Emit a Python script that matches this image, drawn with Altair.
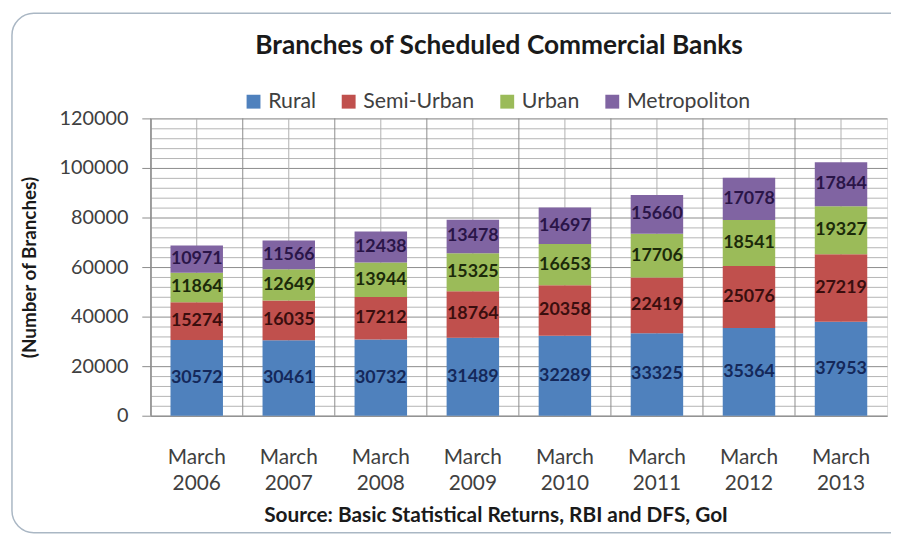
import altair as alt
import pandas as pd

categories = ["March 2006", "March 2007", "March 2008", "March 2009",
              "March 2010", "March 2011", "March 2012", "March 2013"]
series = ["Rural", "Semi-Urban", "Urban", "Metropoliton"]
rural = [30572, 30461, 30732, 31489, 32289, 33325, 35364, 37953]
semi_urban = [15274, 16035, 17212, 18764, 20358, 22419, 25076, 27219]
urban = [11864, 12649, 13944, 15325, 16653, 17706, 18541, 19327]
metro = [10971, 11566, 12438, 13478, 14697, 15660, 17078, 17844]
y_ticks = list(range(0, 120001, 4000))

bar_colors = ["#4F81BD", "#C0504D", "#9BBB59", "#8064A2"]
text_colors = ["#14285a", "#3a0e0e", "#1c2a0a", "#2a1548"]

rows = []
for s_i, (name, vals) in enumerate(zip(series, [rural, semi_urban, urban, metro])):
    for cat, v in zip(categories, vals):
        rows.append({"cat": cat, "series": name, "order": s_i, "value": v})
df = pd.DataFrame(rows)
cat_df = pd.DataFrame({"cat": categories})

FONT = "Lato"
W, H = 743, 300

x_scale = alt.Scale(domain=categories, paddingInner=0, paddingOuter=0)
y_scale = alt.Scale(domain=[0, 120000], nice=False)

x_axis = alt.Axis(
    title="Source: Basic Statistical Returns, RBI and DFS, GoI",
    titleFont=FONT, titleFontSize=21, titleFontWeight="bold",
    titleColor="#1a1a1a", titleX=348, titleY=101,
    titleAlign="center", titleBaseline="middle",
    labelExpr="split(datum.label, ' ')", labelFont=FONT,
    labelFontSize=21, labelColor="#404040", labelLineHeight=26,
    labelPadding=31, labelAngle=0, ticks=False, grid=False,
    domainColor="#8c8c8c")

y_axis = alt.Axis(
    title="(Number of Branches)", titleFont=FONT, titleFontSize=19,
    titleFontWeight="bold", titleColor="#1a1a1a",
    titleX=-122, titleY=150, titleAlign="center", titleBaseline="middle",
    values=y_ticks, format="d", labelOverlap=False,
    labelExpr="datum.value % 20000 === 0 ? datum.label : ''",
    labelFont=FONT, labelFontSize=20, labelColor="#404040",
    labelPadding=14, tickSize=9,
    tickColor=alt.condition("datum.value % 20000 === 0",
                            alt.value("#8c8c8c"), alt.value("transparent")),
    gridColor=alt.condition("datum.value % 20000 === 0",
                            alt.value("#8c8c8c"), alt.value("#b4b4b4")),
    grid=True, domainColor="#8c8c8c")

base = alt.Chart(df).transform_stack(
    stack="value", groupby=["cat"], sort=[alt.SortField("order")], as_=["y0", "y1"]
).transform_calculate(mid="(datum.y0 + datum.y1) / 2")

frame = alt.Chart(pd.DataFrame({"a": [0]})).mark_rect(
    fill="transparent", stroke="#aab7c4", strokeWidth=1.5, cornerRadius=22
).encode(
    x=alt.value(-140), x2=alt.value(800), y=alt.value(-106), y2=alt.value(418)
)

vbound = alt.Chart(cat_df).mark_rule(color="#8c8c8c", strokeWidth=1).encode(
    x=alt.X("cat:N", scale=x_scale, sort=categories, bandPosition=0, axis=x_axis)
)
vmid = alt.Chart(cat_df).mark_rule(color="#b0b0b0", strokeWidth=1).encode(
    x=alt.X("cat:N", scale=x_scale, sort=categories, bandPosition=0.5, axis=x_axis)
)

bars = base.mark_bar(width=alt.RelativeBandSize(0.57)).encode(
    x=alt.X("cat:N", scale=x_scale, sort=categories, axis=x_axis),
    y=alt.Y("y0:Q", scale=y_scale, axis=y_axis),
    y2="y1:Q",
    color=alt.Color("series:N", scale=alt.Scale(domain=series, range=bar_colors),
                    legend=alt.Legend(title=None, orient="none", direction="horizontal",
                                      legendX=93, legendY=-28, padding=0,
                                      symbolType="square", symbolSize=196,
                                      symbolStrokeWidth=0, labelOffset=4,
                                      columnPadding=22, labelFont=FONT,
                                      labelFontSize=21.5, labelColor="#404040")),
    order=alt.Order("order:Q"),
)

labels = base.mark_text(font=FONT, fontWeight="bold",
                        fontSize=18, baseline="middle", align="center").encode(
    x=alt.X("cat:N", scale=x_scale, sort=categories, axis=x_axis),
    y=alt.Y("mid:Q", scale=y_scale, axis=y_axis),
    text=alt.Text("value:Q", format="d"),
    color=alt.Color("series:N", scale=alt.Scale(domain=series, range=text_colors),
                    legend=None),
)

chart = alt.layer(frame, vbound, vmid, bars, labels).resolve_scale(
    color="independent"
).properties(
    width=W, height=H,
    autosize=alt.AutoSizeParams(type="none"),
    padding={"left": 144, "top": 109, "right": 4, "bottom": 122},
    title=alt.TitleParams("Branches of Scheduled Commercial Banks", font=FONT,
                          fontSize=26.5, fontWeight="bold", color="#1a1a1a",
                          anchor="middle", frame="group", dx=-20,
                          baseline="alphabetic", offset=0, dy=68),
).configure_view(stroke="#8c8c8c", strokeWidth=1).configure(background="white")

chart.save("out.html", embed_options={"renderer": "svg", "actions": False})
